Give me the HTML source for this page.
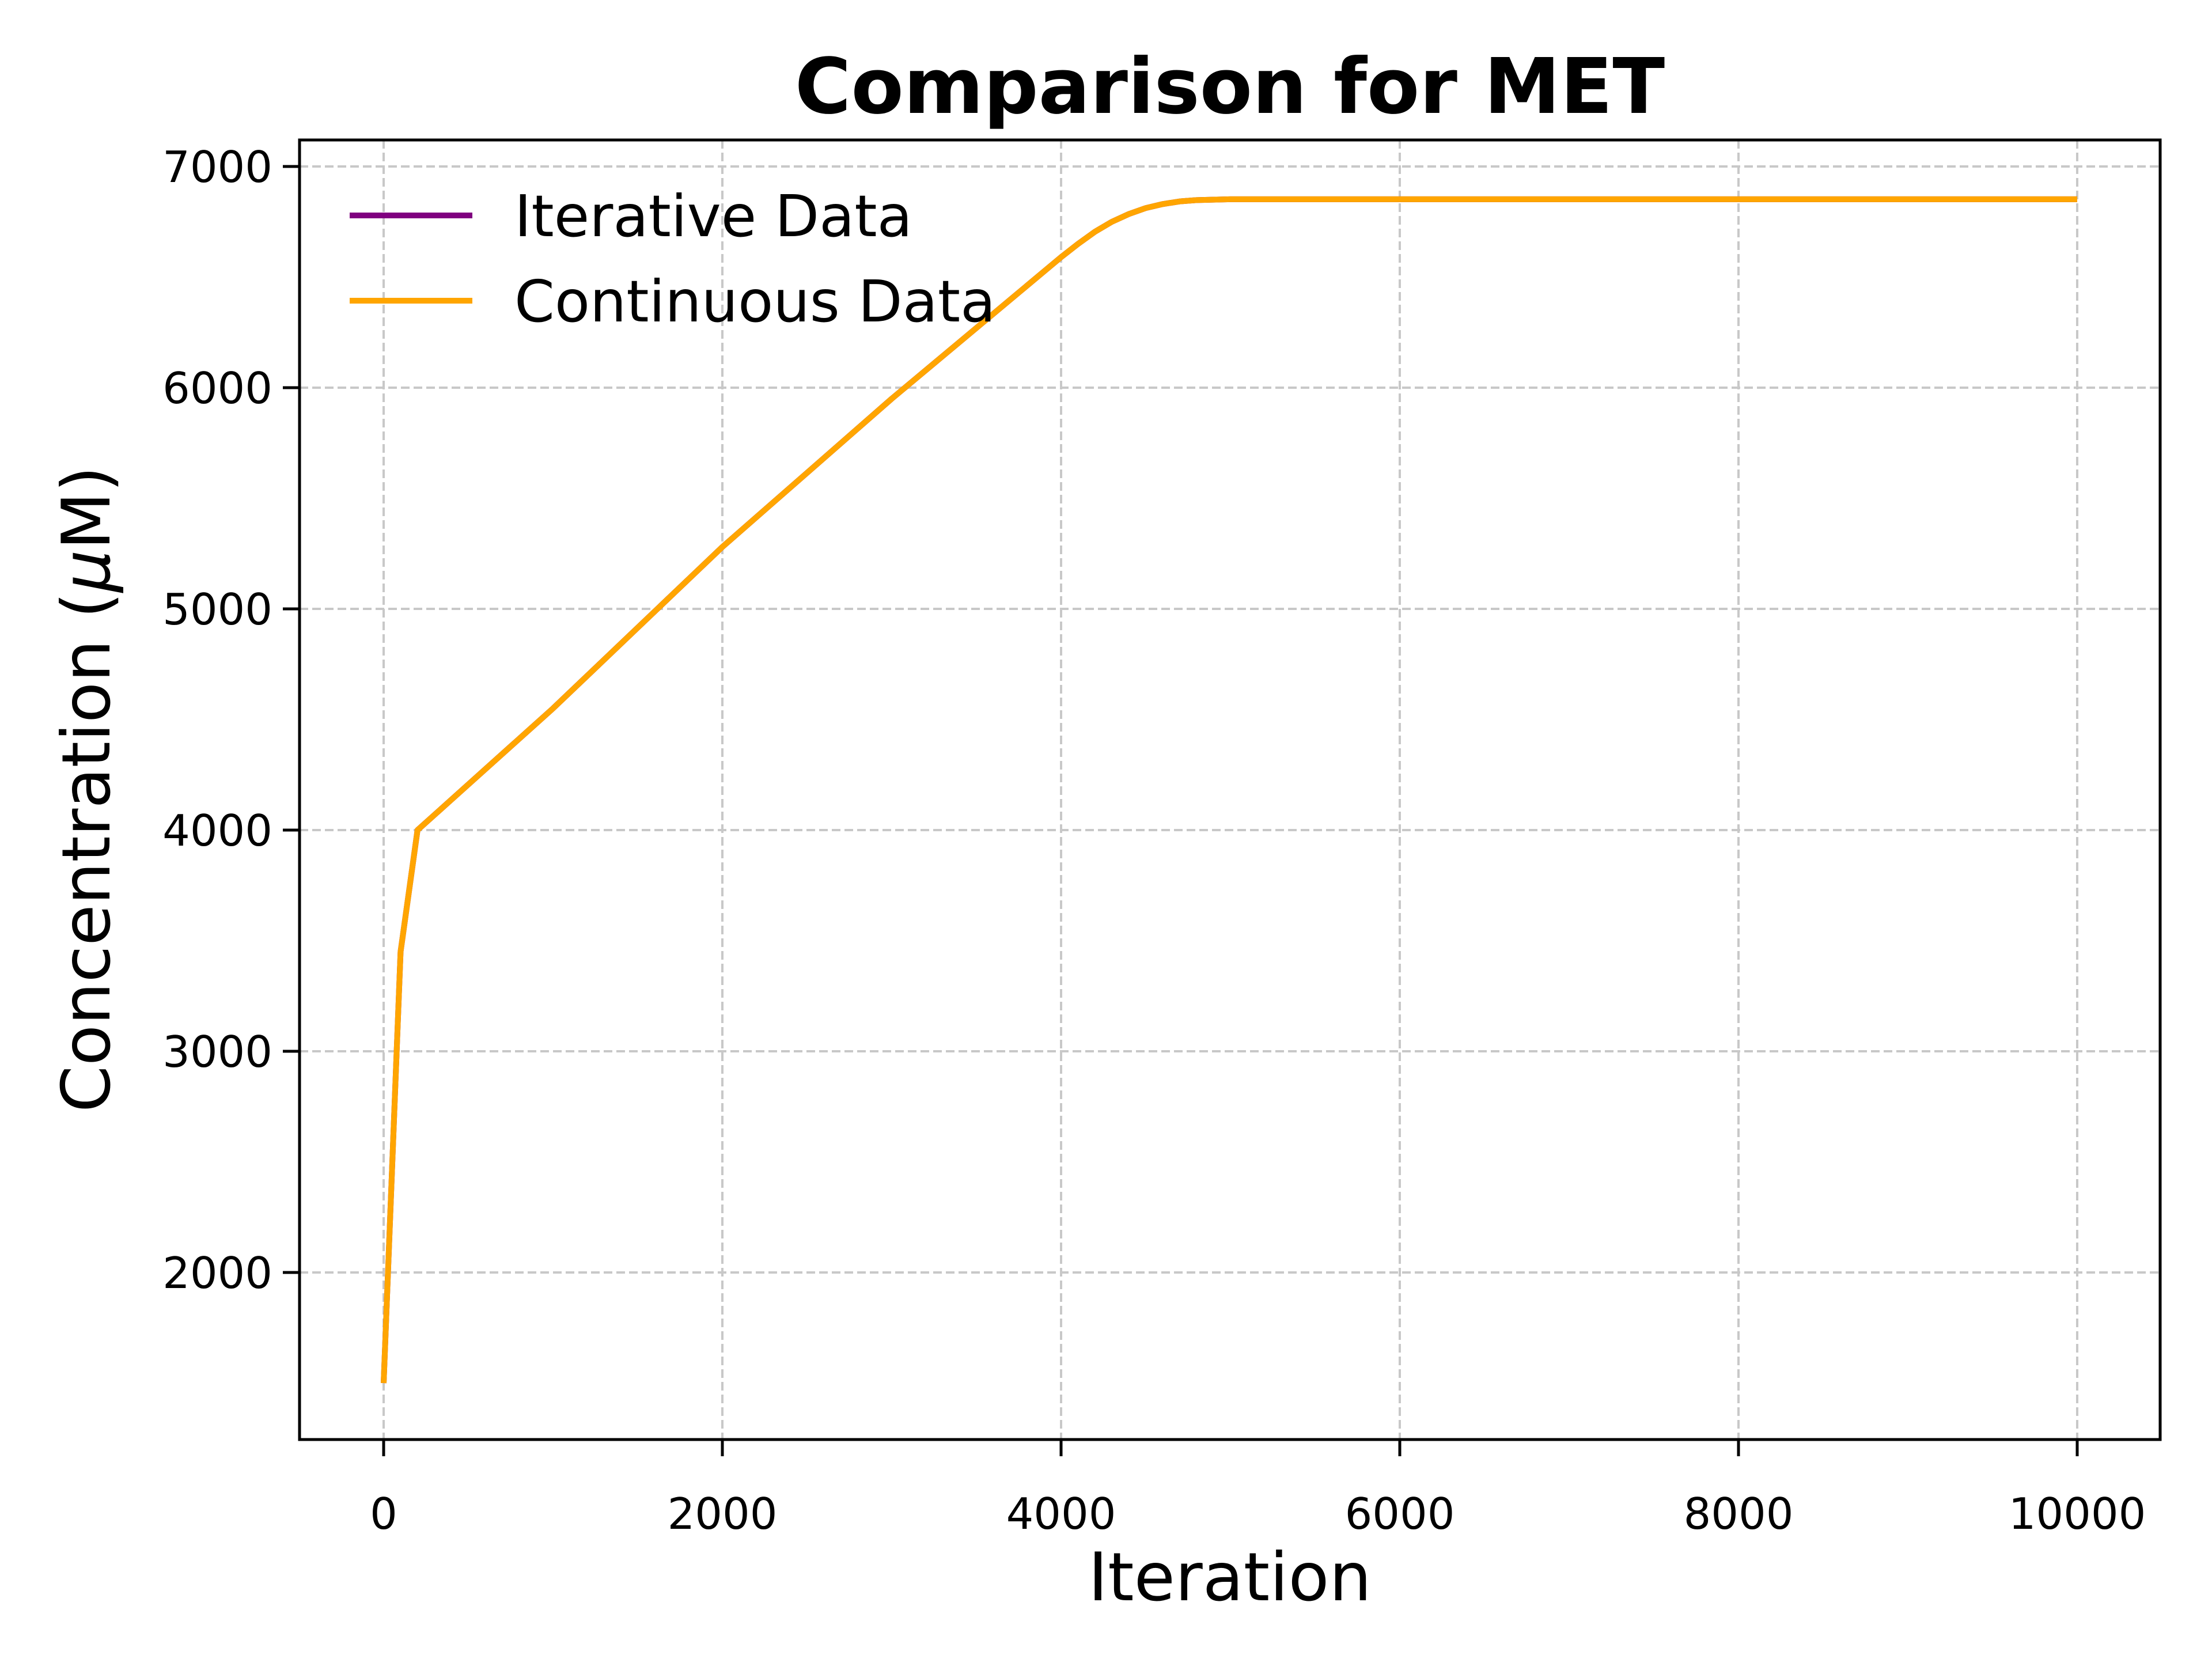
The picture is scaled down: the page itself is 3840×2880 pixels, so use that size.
<!DOCTYPE html>
<html><head><meta charset="utf-8"><style>html,body{margin:0;padding:0;background:#fff}svg{display:block}text{font-family:"DejaVu Sans","Liberation Sans",sans-serif}</style></head>
<body>
<svg id="chart" width="3840" height="2880" xmlns="http://www.w3.org/2000/svg">
<rect width="3840" height="2880" fill="#fff"/>
<g id="grid"></g>
<g id="series"></g>
<rect x="520" y="243" width="3230" height="2256" fill="none" stroke="#000" stroke-width="5"/>
<g id="ticks"></g>
<text x="2135" y="196" text-anchor="middle" font-size="133" font-weight="bold">Comparison for MET</text>
<text x="2135" y="2778" text-anchor="middle" font-size="116">Iteration</text>
<text transform="translate(190,1370) rotate(-90)" text-anchor="middle" font-size="116">Concentration (<tspan font-style="italic">μ</tspan>M)</text>
<g>
<line x1="607" y1="374" x2="820" y2="374" stroke="purple" stroke-width="10"/>
<text x="893" y="410" font-size="100">Iterative Data</text>
<line x1="607" y1="522" x2="820" y2="522" stroke="orange" stroke-width="10"/>
<text x="893" y="558" font-size="100">Continuous Data</text>
</g>
</svg>
<script>
const iterations=[0,100,200,1000,2000,3000,4000,4100,4200,4300,4400,4500,4600,4700,4800,5000,6000,10000];
const iterativeValues=[1500,3450,4000,4550,5280,5950,6590,6650,6705,6750,6785,6812,6830,6842,6848,6852,6852,6852];
const continuousValues=[1500,3450,4000,4550,5280,5950,6590,6650,6705,6750,6785,6812,6830,6842,6848,6852,6852,6852];
const xTicks=[0,2000,4000,6000,8000,10000];
const yTicks=[2000,3000,4000,5000,6000,7000];
const NS="http://www.w3.org/2000/svg";
const L=520,R=3750,T=243,B=2499;
function xs(v){return 666+v*(3606-666)/10000;}
function ys(v){return 289+(7000-v)*384/1000;}
function mk(tag,attrs,parent){const e=document.createElementNS(NS,tag);for(const k in attrs)e.setAttribute(k,attrs[k]);parent.appendChild(e);return e;}
const grid=document.getElementById('grid'),ticks=document.getElementById('ticks'),series=document.getElementById('series');
xTicks.forEach(v=>{const x=xs(v);
 const g=mk('line',{x1:x,y1:T,x2:x,y2:B,stroke:'#c8c8c8','stroke-width':4,'stroke-dasharray':'15 7'},grid);
 
 
 const t=mk('line',{x1:x,y1:B,x2:x,y2:B+29,stroke:'#000','stroke-width':5},ticks);
 
 
 const l=mk('text',{x:x,y:2654,'text-anchor':'middle','font-size':75},ticks);l.textContent=v;
 
 
});
yTicks.forEach(v=>{const y=ys(v);
 const g=mk('line',{x1:L,y1:y,x2:R,y2:y,stroke:'#c8c8c8','stroke-width':4,'stroke-dasharray':'15 7'},grid);
 
 
 const t=mk('line',{x1:L-29,y1:y,x2:L,y2:y,stroke:'#000','stroke-width':5},ticks);
 
 
 const l=mk('text',{x:L-47,y:y+27,'text-anchor':'end','font-size':75},ticks);l.textContent=v;
 
 
});
function pts(vals){return iterations.map((it,i)=>xs(it)+','+ys(vals[i])).join(' ');}
const p1=mk('polyline',{points:pts(iterativeValues),fill:'none',stroke:'purple','stroke-width':10,'stroke-linejoin':'round'},series);


const p2=mk('polyline',{points:pts(continuousValues),fill:'none',stroke:'orange','stroke-width':10,'stroke-linejoin':'round'},series);


</script>
</body></html>
